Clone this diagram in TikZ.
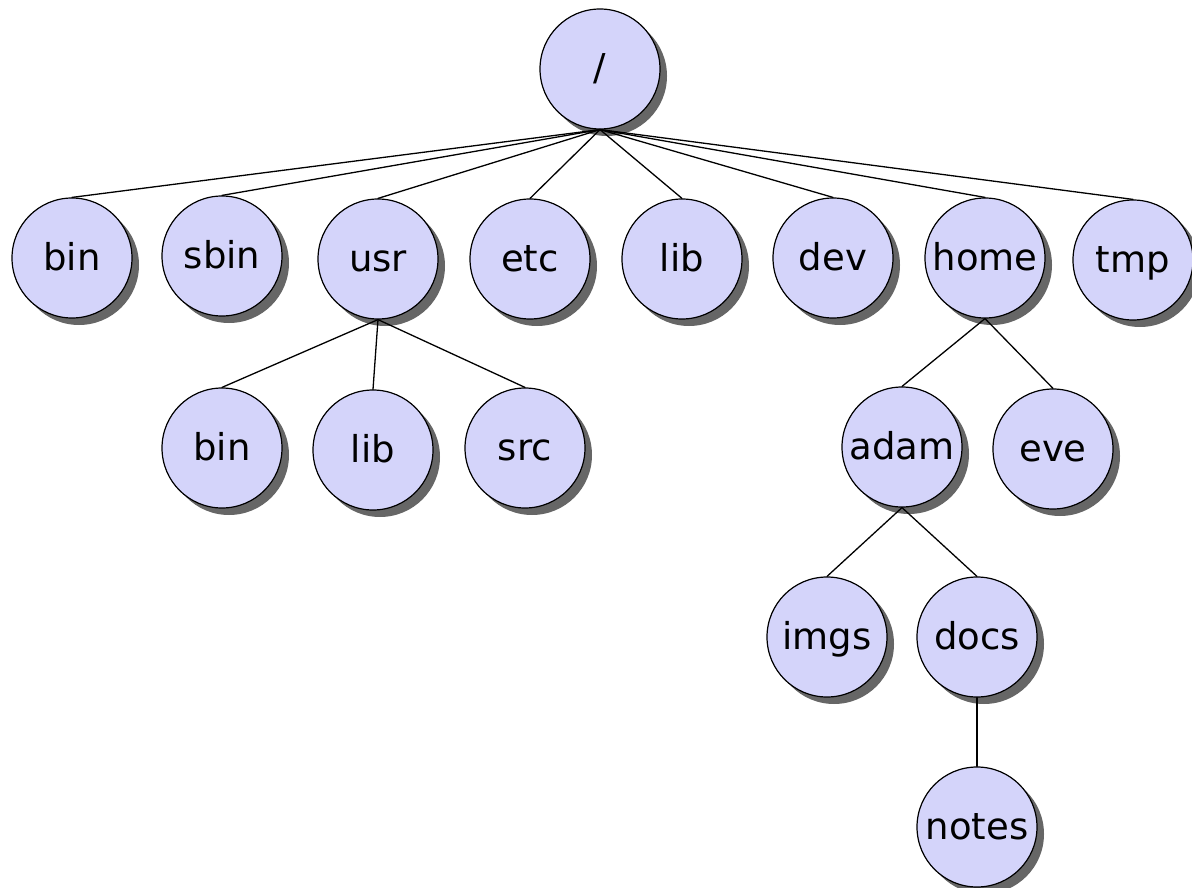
\documentclass[tikz,border=0pt]{standalone}
\usepackage{fontspec}
\setmainfont{DejaVu Sans}
\usepackage{tikz}
\usetikzlibrary{shadows}

\begin{document}
\begin{tikzpicture}[line cap=round,line join=round,x=1pt,y=-1pt,
    dirnode/.style={circle,draw=black,line width=1.2pt,fill=dirfill,minimum size=120pt,inner sep=0pt,
        font=\fontsize{37}{44}\selectfont,text height=26pt,text depth=2pt,
        drop shadow={shadow xshift=7pt,shadow yshift=-7pt,fill=black!60,opacity=1}},
    link/.style={line width=1.3pt}]
    \definecolor{dirfill}{RGB}{212,212,250}
    \useasboundingbox (0,0) rectangle (1192,888);
    % root and first level
    \node[dirnode] (root) at (600,69) {/};
    \node[dirnode] (bin) at (72,258) {bin};
    \node[dirnode] (sbin) at (222,256) {sbin};
    \node[dirnode] (usr) at (378,259) {usr};
    \node[dirnode] (etc) at (530,259) {etc};
    \node[dirnode] (lib) at (682,259) {lib};
    \node[dirnode] (dev) at (833,258) {dev};
    \node[dirnode] (home) at (985,258) {home};
    \node[dirnode] (tmp) at (1133,260) {tmp};
    % below usr
    \node[dirnode] (usrbin) at (222,448) {bin};
    \node[dirnode] (usrlib) at (373,450) {lib};
    \node[dirnode] (usrsrc) at (525,448) {src};
    % below home
    \node[dirnode] (adam) at (902,447) {adam};
    \node[dirnode] (eve) at (1053,449) {eve};
    \node[dirnode] (imgs) at (827,637) {imgs};
    \node[dirnode] (docs) at (977,637) {docs};
    \node[dirnode] (notes) at (977,827) {notes};
    % links
    \foreach \child in {bin,sbin,usr,etc,lib,dev,home,tmp}
        \draw[link] (root.south) -- (\child.north);
    \foreach \child in {usrbin,usrlib,usrsrc}
        \draw[link] (usr.south) -- (\child.north);
    \draw[link] (home.south) -- (adam.north);
    \draw[link] (home.south) -- (eve.north);
    \draw[link] (adam.south) -- (imgs.north);
    \draw[link] (adam.south) -- (docs.north);
    \draw[link] (docs.south) -- (notes.north);
\end{tikzpicture}
\end{document}
